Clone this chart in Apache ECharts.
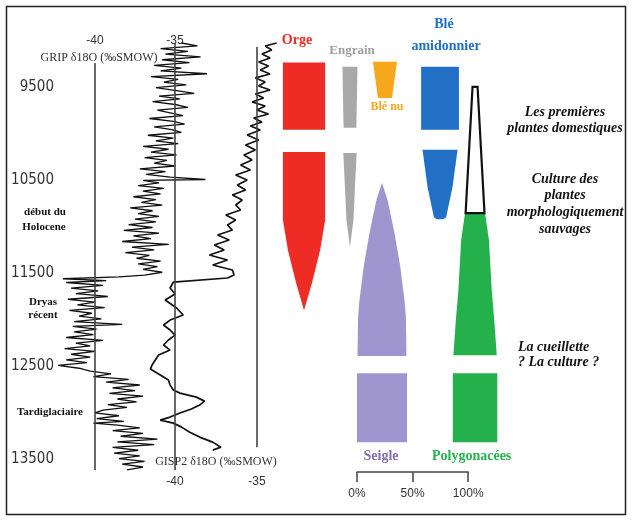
<!DOCTYPE html>
<html>
<head>
<meta charset="utf-8">
<script src="https://cdn.jsdelivr.net/npm/echarts@6/dist/echarts.min.js"></script>
<style>
html, body { margin: 0; padding: 0; background: #fff; }
#chart { width: 632px; height: 521px; }
</style>
</head>
<body>
<div id="chart"></div>
<script>
// Shared time axis (years) and the labelled ticks
const yearTicks = [9500, 10500, 11500, 12500, 13500];
const isoTicks = [-40, -35];
const percentTicks = [0, 50, 100];

// GRIP ice core δ18O (‰ SMOW) as [year, value]
const gripRecord = [
  [9030,-34.6],[9060,-33.6],[9090,-35.9],[9120,-34.2],[9150,-35.6],[9180,-33.4],[9210,-35.8],
  [9240,-34.1],[9270,-36.3],[9300,-34.6],[9330,-35.9],[9360,-33.0],[9390,-36.5],[9420,-34.8],[9450,-35.7],
  [9480,-34.3],[9510,-36.2],[9540,-34.9],[9570,-33.8],[9600,-36.0],[9630,-34.7],[9660,-36.4],[9690,-35.0],
  [9720,-34.2],[9750,-36.1],[9780,-35.3],[9810,-34.5],[9840,-36.6],[9870,-35.1],[9900,-34.4],[9930,-36.3],
  [9960,-35.2],[9990,-34.6],[10020,-36.7],[10050,-35.1],[10080,-36.2],[10110,-34.8],[10140,-37.0],
  [10170,-35.4],[10200,-36.5],[10230,-34.9],[10260,-36.9],[10290,-35.5],[10320,-36.3],[10350,-35.0],
  [10380,-37.2],[10410,-35.6],[10440,-36.8],[10470,-35.3],[10495,-33.1],[10505,-37.0],
  [10530,-36.0],[10560,-37.3],[10590,-35.7],[10620,-37.0],[10650,-35.9],[10680,-37.6],[10710,-36.2],
  [10740,-37.1],[10770,-35.8],[10800,-37.8],[10830,-36.4],[10860,-37.3],[10890,-36.0],[10920,-37.5],
  [10950,-36.2],[10980,-37.9],[11010,-36.4],[11040,-38.2],[11070,-36.0],[11100,-37.6],[11130,-36.5],
  [11160,-38.3],[11190,-35.4],[11220,-37.7],[11250,-36.3],[11280,-38.1],[11310,-36.6],[11340,-37.4],
  [11370,-35.9],[11400,-37.3],[11430,-36.1],[11460,-37.0],[11490,-35.8],[11520,-36.9],
  [11540,-38.5],[11560,-42.0],[11580,-39.3],[11600,-41.8],
  [11630,-39.5],[11660,-41.5],[11690,-39.8],[11720,-41.2],[11750,-39.2],[11780,-41.7],[11810,-40.0],
  [11840,-41.1],[11870,-39.4],[11900,-41.6],[11930,-40.2],[11960,-41.0],[11990,-39.6],[12020,-41.3],
  [12050,-38.3],[12070,-41.4],[12100,-39.9],[12130,-41.3],[12160,-40.1],[12190,-41.8],[12220,-39.5],
  [12250,-41.2],[12280,-40.3],[12310,-41.9],[12340,-40.0],
  [12370,-41.5],[12400,-40.3],[12430,-41.8],[12460,-40.5],[12490,-42.3],[12520,-41.0],
  [12550,-40.3],[12580,-39.0],[12610,-40.1],[12640,-37.9],[12670,-39.3],
  [12700,-37.2],[12730,-38.9],[12760,-37.5],[12790,-39.1],[12820,-37.0],[12850,-38.6],[12880,-37.4],
  [12910,-39.2],[12940,-38.0],[12970,-39.5],
  [13000,-40.0],[13030,-38.5],[13060,-39.9],[13090,-38.2],[13110,-40.1],
  [13130,-38.6],[13160,-37.2],[13190,-38.9],[13220,-37.0],[13250,-38.4],[13280,-36.1],[13310,-38.6],
  [13340,-36.3],[13370,-38.9],[13400,-37.3],
  [13430,-38.8],[13460,-37.2],[13490,-38.5],[13520,-36.9],[13550,-38.3],[13580,-37.0],[13610,-38.0]
];

// GISP2 ice core δ18O (‰ SMOW) as [year, value]
const gisp2Record = [
  [9030,-33.8],[9062,-34.5],[9105,-34.1],[9148,-34.7],[9191,-34.2],[9234,-34.9],[9277,-34.3],
  [9320,-34.8],[9363,-34.2],[9405,-35.1],[9448,-34.5],[9491,-34.9],[9534,-34.2],[9577,-35.1],
  [9620,-34.6],[9663,-35.3],[9706,-34.5],[9749,-35.0],[9792,-34.3],[9835,-35.2],[9878,-34.7],
  [9921,-35.4],[9964,-34.8],[10017,-35.6],[10071,-34.9],[10124,-35.7],[10178,-35.1],[10232,-35.8],
  [10285,-35.3],[10339,-36.0],[10393,-35.4],[10446,-36.3],[10500,-35.6],[10554,-36.2],[10607,-35.7],
  [10661,-36.5],[10715,-35.9],[10768,-36.3],[10822,-36.0],[10876,-36.9],[10929,-36.3],[10983,-36.8],
  [11037,-36.5],[11090,-37.4],[11144,-36.7],[11197,-37.6],[11251,-37.0],[11305,-37.9],[11358,-36.8],
  [11412,-37.7],[11466,-36.5],[11519,-36.4],[11552,-36.8],[11595,-40.1],[11659,-40.3],[11723,-40.0],
  [11788,-40.6],[11874,-39.9],[11949,-39.5],[12003,-40.3],[12056,-40.7],[12110,-40.3],[12164,-40.0],
  [12217,-40.4],[12271,-40.7],[12325,-40.3],[12378,-41.0],[12432,-41.2],[12486,-41.4],[12529,-41.5],
  [12593,-40.9],[12647,-40.4],[12701,-40.3],[12754,-40.1],[12787,-39.7],[12830,-38.7],[12873,-38.2],
  [12915,-38.5],[12958,-39.0],[13001,-39.7],[13044,-40.3],[13077,-40.9],[13109,-40.1],[13152,-39.6],
  [13206,-39.1],[13259,-38.5],[13313,-37.7],[13367,-37.2],[13399,-37.7]
];

// Plant remains: [year, share of the assemblage in %]; null splits sampled intervals
const orge = [[9240,38],[9960,38],null,[10200,38],[10930,38],[11250,29],[11610,14],[11900,0]];
const engrain = [[9285,13.5],[9940,11.5],null,[10210,12],[10575,9],[10930,6.3],[11220,0]];
const bleNu = [[9230,21.6],[9620,12.6]];
const bleAmidonnier = [[9285,34],[9960,34],null,[10175,31.5],[10575,22.5],[10900,11],[10920,6]];
const domestiques = [[9500,4.5],[10855,17]];
const seigle = [[10530,0],[10715,10],[11070,22.5],[11435,33],[11790,40.5],[11970,43],[12390,44],null,[12575,45],[13315,45]];
const polygonacees = [[10855,18],[11145,25],[11680,30],[12040,35],[12380,39],null,[12575,40],[13315,40]];

const YEAR_MIN = 9000, YEAR_MAX = 13700;
const GRID_TOP = 40.2, GRID_H = 438;

function yearAxis(gridIndex, extra) {
  return Object.assign({
    type: 'value', gridIndex, min: YEAR_MIN, max: YEAR_MAX, inverse: true,
    axisLine: { show: false }, axisTick: { show: false }, splitLine: { show: false },
    axisLabel: { show: false }
  }, extra || {});
}

function splitSegments(rows) {
  const segs = [];
  let cur = [];
  rows.forEach(r => {
    if (r === null) { if (cur.length) segs.push(cur); cur = []; }
    else cur.push(r);
  });
  if (cur.length) segs.push(cur);
  return segs;
}

// Symmetric "kite" outline of one taxon, centred on its column
function taxonSeries(name, rows, centre, fill, stroke) {
  const segs = splitSegments(rows);
  return {
    type: 'custom', name, xAxisIndex: 2, yAxisIndex: 2, silent: true, z: stroke ? 4 : 3,
    data: segs.map((s, i) => [centre, s[0][0], i]),
    renderItem(params, api) {
      const seg = segs[params.dataIndex];
      const left = seg.map(([yr, p]) => api.coord([centre - p / 2, yr]));
      const right = seg.slice().reverse().map(([yr, p]) => api.coord([centre + p / 2, yr]));
      return {
        type: 'polygon',
        shape: { points: left.concat(right) },
        style: stroke ? { fill, stroke, lineWidth: 2.2 } : { fill }
      };
    }
  };
}

function guide(x, y0, y1) {
  return [{ coord: [x, y0] }, { coord: [x, y1] }];
}

const serif = 'Liberation Serif, "Times New Roman", serif';
const sans = 'Liberation Sans, Arial, sans-serif';
const narrow = '"Liberation Sans Narrow", "DejaVu Sans Condensed", "Liberation Sans", sans-serif';

function txt(text, x, y, o) {
  return {
    type: 'text', x, y, silent: true,
    style: Object.assign({
      text, fill: '#111', font: 'bold 11px ' + serif,
      align: 'center', verticalAlign: 'middle'
    }, o || {})
  };
}

const chart = echarts.init(document.getElementById('chart'), null, { renderer: 'canvas' });

chart.setOption({
  backgroundColor: '#ffffff',
  animation: false,
  grid: [
    { left: 47, top: GRID_TOP, width: 176, height: GRID_H },
    { left: 142.2, top: GRID_TOP, width: 147.6, height: GRID_H },
    { left: 268, top: GRID_TOP, width: 222.4, height: GRID_H },
    { left: 357, top: 462, width: 111.2, height: 10 }
  ],
  xAxis: [
    {
      type: 'value', gridIndex: 0, min: -43, max: -32, position: 'top', offset: -12,
      axisLine: { show: false }, axisTick: { show: false }, splitLine: { show: false },
      axisLabel: { customValues: isoTicks, margin: 6, fontSize: 12, color: '#333', fontFamily: sans }
    },
    {
      type: 'value', gridIndex: 1, min: -42, max: -33, position: 'bottom', offset: -8,
      axisLine: { show: false }, axisTick: { show: false }, splitLine: { show: false },
      axisLabel: { customValues: isoTicks, margin: 5, fontSize: 12, color: '#333', fontFamily: sans }
    },
    { type: 'value', gridIndex: 2, min: 0, max: 200, show: false },
    {
      type: 'value', gridIndex: 3, min: 0, max: 100, interval: 50, position: 'bottom',
      axisLine: { show: true, lineStyle: { color: '#444', width: 1.5 } },
      axisTick: { show: true, length: 10, lineStyle: { color: '#444', width: 1.5 } },
      splitLine: { show: false },
      axisLabel: {
        customValues: percentTicks, formatter: '{value}%', margin: 16,
        fontSize: 12, color: '#333', fontFamily: sans
      }
    }
  ],
  yAxis: [
    yearAxis(0, {
      offset: -9,
      axisLabel: {
        show: true, customValues: yearTicks, margin: 2, fontSize: 15,
        color: '#333', fontFamily: narrow, formatter: v => String(v)
      }
    }),
    yearAxis(1),
    yearAxis(2),
    { type: 'value', gridIndex: 3, min: 0, max: 1, show: false }
  ],
  series: [
    {
      type: 'line', name: 'GRIP', xAxisIndex: 0, yAxisIndex: 0, clip: false,
      showSymbol: false, silent: true,
      data: gripRecord.map(([yr, v]) => [v, yr]),
      lineStyle: { color: '#111', width: 1.3 },
      markLine: {
        silent: true, symbol: 'none', label: { show: false },
        lineStyle: { color: '#444', width: 1.6, type: 'solid' },
        data: [guide(-40, 9245, 13615), guide(-35, 9030, 13615)]
      }
    },
    {
      type: 'line', name: 'GISP2', xAxisIndex: 1, yAxisIndex: 1, clip: false,
      showSymbol: false, silent: true,
      data: gisp2Record.map(([yr, v]) => [v, yr]),
      lineStyle: { color: '#111', width: 1.7 },
      markLine: {
        silent: true, symbol: 'none', label: { show: false },
        lineStyle: { color: '#444', width: 1.6, type: 'solid' },
        data: [guide(-35, 9073, 13367)]
      }
    },
    taxonSeries('Orge', orge, 32.4, '#ee2b24'),
    taxonSeries('Engrain', engrain, 73.7, '#a8a8a8'),
    taxonSeries('Blé nu', bleNu, 105.2, '#f6a71c'),
    taxonSeries('Blé amidonnier', bleAmidonnier, 154.7, '#2270c6'),
    taxonSeries('Seigle', seigle, 102.5, '#a096cf'),
    taxonSeries('Polygonacées', polygonacees, 186.2, '#24b14c'),
    taxonSeries('Plantes domestiques', domestiques, 186.2, '#ffffff', '#111'),
    { type: 'line', xAxisIndex: 3, yAxisIndex: 3, data: [], silent: true }
  ],
  graphic: [
    { type: 'rect', silent: true, shape: { x: 6.5, y: 6.5, width: 619, height: 508 },
      style: { fill: 'none', stroke: '#222', lineWidth: 1.5 } },
    txt('GRIP δ18O (‰SMOW)', 99, 58, { font: '12px ' + serif, fill: '#333' }),
    txt('GISP2 δ18O (‰SMOW)', 216, 462, { font: '12px ' + serif, fill: '#333' }),
    txt('début du', 45, 212),
    txt('Holocene', 44, 227),
    txt('Dryas', 43, 302),
    txt('récent', 43, 315),
    txt('Tardiglaciaire', 17, 412, { align: 'left' }),
    txt('Orge', 297, 40, { font: 'bold 14px ' + serif, fill: '#ee2b24' }),
    txt('Engrain', 352, 51, { font: 'bold 13px ' + serif, fill: '#9d9d9d' }),
    txt('Blé nu', 387, 107, { font: 'bold 12px ' + serif, fill: '#f6a71c' }),
    txt('Blé', 444, 24, { font: 'bold 14px ' + serif, fill: '#2270c6' }),
    txt('amidonnier', 446, 46, { font: 'bold 14px ' + serif, fill: '#2270c6' }),
    txt('Seigle', 381, 456, { font: 'bold 14px ' + serif, fill: '#8070b8' }),
    txt('Polygonacées', 432, 456, { font: 'bold 14px ' + serif, fill: '#24b14c', align: 'left' }),
    txt('Les premières', 565, 112, { font: 'italic bold 14px ' + serif }),
    txt('plantes domestiques', 565, 128, { font: 'italic bold 14px ' + serif }),
    txt('Culture des', 565, 179, { font: 'italic bold 14px ' + serif }),
    txt('plantes', 565, 195, { font: 'italic bold 14px ' + serif }),
    txt('morphologiquement', 565, 212, { font: 'italic bold 14px ' + serif }),
    txt('sauvages', 565, 229, { font: 'italic bold 14px ' + serif }),
    txt('La cueillette', 518, 347, { font: 'italic bold 14px ' + serif, align: 'left' }),
    txt('? La culture ?', 518, 362, { font: 'italic bold 14px ' + serif, align: 'left' })
  ]
});
</script>
</body>
</html>
